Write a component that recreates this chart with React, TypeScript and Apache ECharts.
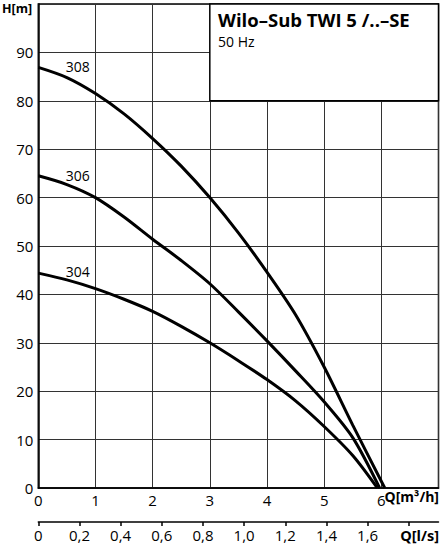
import React, { useEffect, useRef } from 'react';
import * as echarts from 'echarts';

// flow Q [m³/h] where each curve was read
const q308 = [0, 0.5, 1, 1.5, 2, 2.5, 3, 3.5, 4, 4.5, 5, 5.5, 6.06];
const h308 = [86.9, 84.8, 81.5, 77.3, 72.2, 66.5, 60, 52.7, 44.6, 35.8, 25, 13, 0];

const q306 = [0, 0.5, 1, 1.5, 2, 2.5, 3, 3.5, 4, 4.5, 5, 5.5, 5.97];
const h306 = [64.5, 62.7, 60, 56, 51.4, 47, 42.2, 36.4, 30.4, 24.2, 17.8, 10.4, 0];

const q304 = [0, 0.5, 1, 1.5, 2, 2.5, 3, 3.5, 4, 4.5, 5, 5.5, 5.93];
const h304 = [44.4, 43, 41.2, 39, 36.5, 33.4, 30, 26.3, 22.4, 18, 12.7, 6.7, 0];

const curveNames = ['308', '306', '304'];
const curveLabelAt = [[0.69, 87], [0.69, 64.6], [0.69, 44.8]];

const lsTicks = [0, 0.2, 0.4, 0.6, 0.8, 1.0, 1.2, 1.4, 1.6, 1.8];
const lsLabels = [0, 0.2, 0.4, 0.6, 0.8, 1.0, 1.2, 1.4, 1.6];

const FONT = '"Open Sans", "Noto Sans", sans-serif';

const pairs = (q: number[], h: number[]) => q.map((v, i) => [v, h[i]]);

const App: React.FC = () => {
  const chartRef = useRef<HTMLDivElement | null>(null);

  useEffect(() => {
    document.body.style.margin = '0';
    if (!chartRef.current) return;
    const chart = echarts.init(chartRef.current, null, { renderer: 'svg' });

    const curves = [pairs(q308, h308), pairs(q306, h306), pairs(q304, h304)];

    const series: any[] = curves.map((data, i) => ({
      type: 'line',
      name: curveNames[i],
      data,
      smooth: 0.3,
      symbol: 'none',
      lineStyle: { color: '#000', width: 3 },
      z: 5,
      markPoint: {
        symbol: 'circle',
        symbolSize: 0,
        data: [
          {
            coord: curveLabelAt[i],
            label: {
              show: true,
              position: 'inside',
              formatter: curveNames[i],
              color: '#000',
              fontSize: 14,
              fontFamily: FONT,
            },
          },
        ],
      },
    }));

    // title box in the top-right corner
    series[0].markArea = {
      silent: true,
      itemStyle: { color: '#fff', borderColor: '#000', borderWidth: 1.5 },
      label: {
        show: true,
        position: [9, 4],
        formatter: '{t|Wilo–Sub TWI 5 /..–SE}\n{s|50 Hz}',
        rich: {
          t: { fontSize: 18.5, fontWeight: 'bold', color: '#000', fontFamily: FONT, lineHeight: 25 },
          s: { fontSize: 14, color: '#000', fontFamily: FONT, lineHeight: 19 },
        },
      },
      data: [[{ coord: [3, 80] }, { coord: [7, 100] }]],
    };

    chart.setOption({
      animation: false,
      grid: {
        left: 38.3,
        right: 3.5,
        top: 4,
        bottom: 72,
        show: true,
        borderColor: '#000',
        borderWidth: 1.5,
      },
      xAxis: [
        {
          type: 'value',
          min: 0,
          max: 7,
          interval: 1,
          axisLine: { show: true, onZero: false, lineStyle: { color: '#000', width: 1.5 } },
          axisTick: { show: false },
          splitLine: { show: true, lineStyle: { color: '#333', width: 1 } },
          axisLabel: {
            margin: 4,
            fontSize: 15,
            color: '#000',
            fontFamily: FONT,
            showMaxLabel: false,
          },
        },
        {
          type: 'value',
          position: 'bottom',
          offset: 34,
          min: 0,
          max: 7 / 3.6,
          axisLine: { show: true, onZero: false, lineStyle: { color: '#000', width: 1.5 } },
          axisTick: { show: true, inside: false, length: 4, customValues: lsTicks, lineStyle: { color: '#000', width: 1.5 } },
          splitLine: { show: false },
          axisLabel: {
            customValues: lsLabels,
            margin: 5,
            fontSize: 15,
            color: '#000',
            fontFamily: FONT,
            formatter: (v: number) => (v === 0 ? '0' : v.toFixed(1).replace('.', ',')),
          },
        },
      ],
      yAxis: {
        type: 'value',
        min: 0,
        max: 100,
        interval: 10,
        axisLine: { show: true, lineStyle: { color: '#000', width: 1.5 } },
        axisTick: { show: false },
        splitLine: { show: true, lineStyle: { color: '#333', width: 1 } },
        axisLabel: {
          margin: 5,
          fontSize: 15,
          color: '#000',
          fontFamily: FONT,
          showMaxLabel: false,
        },
      },
      graphic: [
        {
          type: 'text',
          left: 2,
          top: 2,
          style: { text: 'H[m]', fontSize: 12.5, fontWeight: 'bold', fill: '#000', fontFamily: FONT },
        },
        {
          type: 'text',
          right: 3,
          top: 489,
          style: { text: 'Q[m³/h]', fontSize: 14, fontWeight: 'bold', fill: '#000', fontFamily: FONT },
        },
        {
          type: 'text',
          right: 3,
          top: 528,
          style: { text: 'Q[l/s]', fontSize: 14.5, fontWeight: 'bold', fill: '#000', fontFamily: FONT },
        },
      ],
      series,
    });

    return () => {
      chart.dispose();
    };
  }, []);

  return <div ref={chartRef} style={{ width: '442px', height: '560px' }}></div>;
};

export default App;
